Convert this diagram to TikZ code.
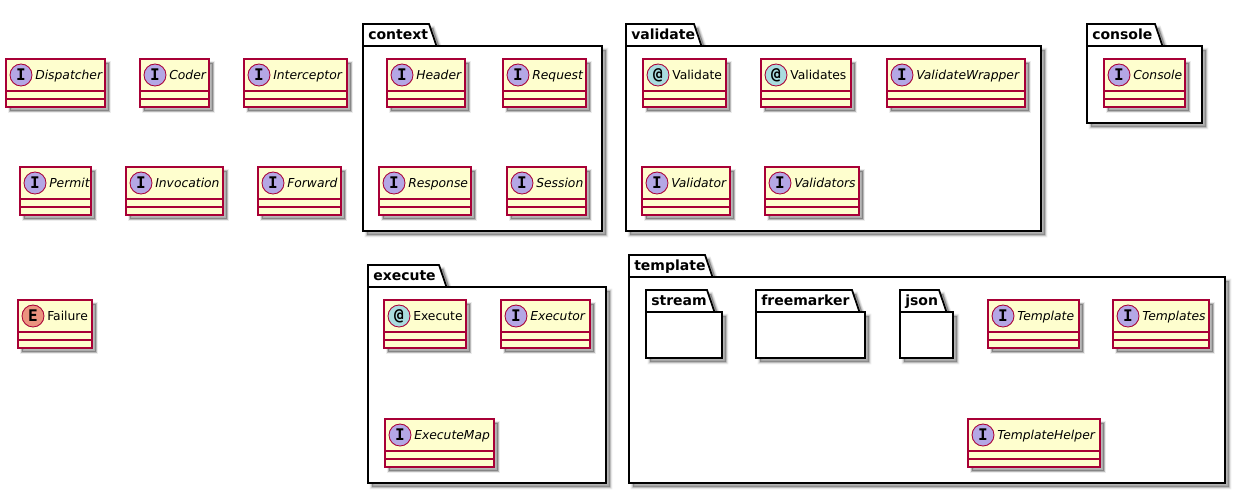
\documentclass[tikz,border=0pt]{standalone}
\usepackage{fontspec}
\setmainfont{DejaVu Sans}
\newfontfamily\iconfont{DejaVu Sans Mono}[BoldFont={DejaVu Sans Mono Bold}]
\definecolor{classborder}{HTML}{A80036}
\definecolor{classfill}{HTML}{FEFECE}
\definecolor{ifacefill}{HTML}{B4A7E5}
\definecolor{annotfill}{HTML}{A9DCDF}
\definecolor{enumfill}{HTML}{EB937F}
\tikzset{
	softshadow/.style={
		preaction={draw=black,fill=black,opacity=.07,line width=3.4pt,transform canvas={shift={(3pt,-3pt)}}},
		preaction={draw=black,fill=black,opacity=.1,line width=2.2pt,transform canvas={shift={(3pt,-3pt)}}},
		preaction={draw=black,fill=black,opacity=.13,line width=1pt,transform canvas={shift={(3pt,-3pt)}}}},
	classbox/.style={rectangle,draw=classborder,fill=classfill,line width=.8pt,
		inner sep=0pt,outer sep=0pt,anchor=north west,minimum height=36pt,softshadow},
	classrule/.style={draw=classborder,line width=.8pt},
	iconcircle/.style={circle,draw=classborder,line width=.65pt,inner sep=0pt,outer sep=0pt,
		minimum size=16.5pt,font=\iconfont\bfseries\fontsize{12}{12}\selectfont,text=black},
	ifacename/.style={anchor=base west,inner sep=0pt,font=\fontsize{9.25}{11}\selectfont\itshape},
	plainname/.style={anchor=base west,inner sep=0pt,font=\fontsize{9.25}{11}\selectfont},
	pkgline/.style={draw=black,fill=white,line width=1.3pt,line join=miter,softshadow},
	pkgname/.style={anchor=base west,inner sep=0pt,font=\fontsize{10.5}{12}\selectfont\bfseries},
}
% id, left, right, top, letter, icon colour, name style, text
\newcommand{\classnode}[8]{
	\node [classbox,minimum width={(#3-#2)*0.75pt}] (#1) at (#2,#4) {};
	\draw [classrule] ([yshift=-24pt]#1.north west) -- ([yshift=-24pt]#1.north east);
	\draw [classrule] ([yshift=-30pt]#1.north west) -- ([yshift=-30pt]#1.north east);
	\node [iconcircle,fill=#6] (#1icon) at ([xshift=11.25pt,yshift=-12pt]#1.north west) {#5};
	\node [#7] (#1name) at ([xshift=21.75pt,yshift=-15pt]#1.north west) {#8};
}
% id, left, right, tab top, body top, bottom, tab right (top edge), text
\newcommand{\pkgnode}[8]{
	\draw [pkgline] (#2,#4) -- (#7,#4) -- ({#7+7.5},#5) -- (#3,#5) -- (#3,#6) -- (#2,#6) -- cycle;
	\draw [draw=black,line width=1.3pt] (#2,#5) -- ({#7+7.5},#5);
	\node [pkgname] (#1) at ({#2+5},{#4+15}) {#8};
}

\begin{document}
\begin{tikzpicture}[x=0.75pt,y=-0.75pt]
	\useasboundingbox (0,0) rectangle (1246,494);
	% free classes
	\classnode{dispatcher}{6}{105}{59}{I}{ifacefill}{ifacename}{Dispatcher}
	\classnode{coder}{140}{209}{59}{I}{ifacefill}{ifacename}{Coder}
	\classnode{interceptor}{244}{347}{59}{I}{ifacefill}{ifacename}{Interceptor}
	\classnode{permit}{20}{91}{167}{I}{ifacefill}{ifacename}{Permit}
	\classnode{invocation}{126}{223}{167}{I}{ifacefill}{ifacename}{Invocation}
	\classnode{forward}{258}{341}{167}{I}{ifacefill}{ifacename}{Forward}
	\classnode{failure}{18}{92}{300}{E}{enumfill}{plainname}{Failure}
	% context
	\pkgnode{context}{363}{602}{24}{46}{231}{429}{context}
	\classnode{header}{387}{465}{59}{I}{ifacefill}{ifacename}{Header}
	\classnode{request}{503}{586}{59}{I}{ifacefill}{ifacename}{Request}
	\classnode{response}{379}{471}{167}{I}{ifacefill}{ifacename}{Response}
	\classnode{session}{507}{586}{167}{I}{ifacefill}{ifacename}{Session}
	% validate
	\pkgnode{validatepkg}{626}{1041}{24}{46}{231}{694}{validate}
	\classnode{validate}{643}{726}{59}{@}{annotfill}{plainname}{Validate}
	\classnode{validates}{761}{851}{59}{@}{annotfill}{plainname}{Validates}
	\classnode{validatewrapper}{887}{1025}{59}{I}{ifacefill}{ifacename}{ValidateWrapper}
	\classnode{validator}{642}{730}{167}{I}{ifacefill}{ifacename}{Validator}
	\classnode{validators}{765}{859}{167}{I}{ifacefill}{ifacename}{Validators}
	% console
	\pkgnode{consolepkg}{1087}{1202}{24}{46}{123}{1155}{console}
	\classnode{console}{1104}{1185}{59}{I}{ifacefill}{ifacename}{Console}
	% execute
	\pkgnode{executepkg}{368}{606}{265}{287}{483}{439}{execute}
	\classnode{execute}{384}{466}{300}{@}{annotfill}{plainname}{Execute}
	\classnode{executor}{501}{590}{300}{I}{ifacefill}{ifacename}{Executor}
	\classnode{executemap}{385}{494}{419}{I}{ifacefill}{ifacename}{ExecuteMap}
	% template
	\pkgnode{templatepkg}{629}{1225}{255}{277}{483}{705}{template}
	\pkgnode{stream}{646}{722}{290}{312}{358}{707}{stream}
	\pkgnode{freemarker}{756}{865}{290}{312}{358}{852}{freemarker}
	\pkgnode{json}{900}{953}{290}{312}{358}{939}{json}
	\classnode{template}{988}{1079}{300}{I}{ifacefill}{ifacename}{Template}
	\classnode{templates}{1113}{1209}{300}{I}{ifacefill}{ifacename}{Templates}
	\classnode{templatehelper}{968}{1100}{419}{I}{ifacefill}{ifacename}{TemplateHelper}
\end{tikzpicture}
\end{document}
